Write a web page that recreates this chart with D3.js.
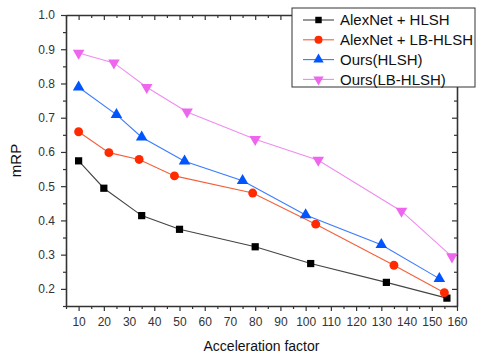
<!DOCTYPE html>
<html>
<head>
<meta charset="utf-8">
<script src="https://cdn.jsdelivr.net/npm/d3@7"></script>
<style>
  html, body { margin: 0; padding: 0; background: #fff; }
  svg { display: block; font-family: "Liberation Sans", Arial, sans-serif; }
</style>
</head>
<body>
<div id="chart"></div>
<script>
const xTicks = [10, 20, 30, 40, 50, 60, 70, 80, 90, 100, 110, 120, 130, 140, 150, 160];
const yTicks = [0.2, 0.3, 0.4, 0.5, 0.6, 0.7, 0.8, 0.9, 1.0];

const alexHlshX = [10, 20, 35, 50, 80, 102, 132, 156];
const alexHlshY = [0.574, 0.494, 0.414, 0.374, 0.323, 0.274, 0.219, 0.173];
const alexLbX = [10, 22, 34, 48, 79, 104, 135, 155];
const alexLbY = [0.659, 0.598, 0.578, 0.530, 0.480, 0.389, 0.269, 0.189];
const oursHlshX = [10, 25, 35, 52, 75, 100, 130, 153];
const oursHlshY = [0.789, 0.709, 0.643, 0.573, 0.516, 0.416, 0.329, 0.230];
const oursLbX = [10, 24, 37, 53, 80, 105, 138, 158];
const oursLbY = [0.889, 0.860, 0.789, 0.717, 0.637, 0.576, 0.427, 0.294];

const series = [
  { name: "AlexNet + HLSH", xs: alexHlshX, ys: alexHlshY, line: "#444", fill: "#000", sym: d3.symbolSquare, size: 52 },
  { name: "AlexNet + LB-HLSH", xs: alexLbX, ys: alexLbY, line: "#f4603a", fill: "#ff2a00", sym: d3.symbolCircle, size: 62 },
  { name: "Ours(HLSH)", xs: oursHlshX, ys: oursHlshY, line: "#3a7cff", fill: "#0055ff", sym: d3.symbolTriangle, size: 58 },
  { name: "Ours(LB-HLSH)", xs: oursLbX, ys: oursLbY, line: "#f08cf0", fill: "#ee66ee", sym: d3.symbolTriangle, size: 58, flip: true },
];

const W = 477, H = 355, m = { l: 66, r: 20, t: 15, b: 49 };
const x = d3.scaleLinear().domain([5, 160]).range([m.l, W - m.r]);
const y = d3.scaleLinear().domain([0.15, 1.0]).range([H - m.b, m.t]);

const svg = d3.select("#chart").append("svg").attr("width", W).attr("height", H);
const axisCol = "#333";

// frame axes: left/bottom ticks outward, top/right ticks inward
const xMinor = d3.range(5, 161, 5).filter((v) => v % 10 !== 0);
const yMinor = d3.range(0.15, 1.0, 0.1).map((v) => +v.toFixed(2));

function styleAxis(g) {
  g.select(".domain").attr("stroke", axisCol).attr("stroke-width", 1.6);
  g.selectAll(".tick line").attr("stroke", axisCol).attr("stroke-width", 1.2);
  g.selectAll(".tick text").attr("fill", "#333").attr("font-size", 12);
}

svg.append("g").attr("transform", `translate(0,${H - m.b})`)
  .call(d3.axisBottom(x).tickValues(xTicks).tickSize(5).tickSizeOuter(0).tickPadding(6).tickFormat(d3.format("d")))
  .call(styleAxis);
svg.append("g").attr("transform", `translate(0,${H - m.b})`)
  .call(d3.axisBottom(x).tickValues(xMinor).tickSize(3).tickFormat(""))
  .call((g) => g.select(".domain").remove()).call(styleAxis);

svg.append("g").attr("transform", `translate(0,${m.t})`)
  .call(d3.axisBottom(x).tickValues(xTicks).tickSize(5).tickSizeOuter(0).tickFormat(""))
  .call(styleAxis);
svg.append("g").attr("transform", `translate(0,${m.t})`)
  .call(d3.axisBottom(x).tickValues(xMinor).tickSize(3).tickFormat(""))
  .call((g) => g.select(".domain").remove()).call(styleAxis);

svg.append("g").attr("transform", `translate(${m.l},0)`)
  .call(d3.axisLeft(y).tickValues(yTicks).tickSize(5).tickSizeOuter(0).tickPadding(6).tickFormat(d3.format(".1f")))
  .call(styleAxis);
svg.append("g").attr("transform", `translate(${m.l},0)`)
  .call(d3.axisLeft(y).tickValues(yMinor).tickSize(3).tickFormat(""))
  .call((g) => g.select(".domain").remove()).call(styleAxis);

svg.append("g").attr("transform", `translate(${W - m.r},0)`)
  .call(d3.axisLeft(y).tickValues(yTicks).tickSize(5).tickSizeOuter(0).tickFormat(""))
  .call(styleAxis);
svg.append("g").attr("transform", `translate(${W - m.r},0)`)
  .call(d3.axisLeft(y).tickValues(yMinor).tickSize(3).tickFormat(""))
  .call((g) => g.select(".domain").remove()).call(styleAxis);

// axis titles
svg.append("text").attr("x", (m.l + W - m.r) / 2).attr("y", H - 4).attr("text-anchor", "middle")
  .attr("font-size", 14).attr("fill", "#111").text("Acceleration factor");
svg.append("text").attr("transform", `translate(21,${(m.t + H - m.b) / 2}) rotate(-90)`)
  .attr("text-anchor", "middle").attr("font-size", 15).attr("fill", "#111").text("mRP");

// series
const line = d3.line().x((d) => x(d[0])).y((d) => y(d[1]));
series.forEach((s) => {
  const pts = s.xs.map((v, i) => [v, s.ys[i]]);
  svg.append("path").datum(pts).attr("d", line).attr("fill", "none")
    .attr("stroke", s.line).attr("stroke-width", 1.1);
  svg.append("g").selectAll("path").data(pts).join("path")
    .attr("d", d3.symbol(s.sym, s.size))
    .attr("transform", (d) => `translate(${x(d[0])},${y(d[1])})${s.flip ? " rotate(180)" : ""}`)
    .attr("fill", s.fill);
});

// legend
const lg = svg.append("g").attr("transform", "translate(292,8)");
lg.append("rect").attr("width", 183).attr("height", 79).attr("fill", "#fff")
  .attr("stroke", "#333").attr("stroke-width", 1);
series.forEach((s, i) => {
  const yy = 12 + i * 19.8;
  lg.append("line").attr("x1", 11).attr("x2", 42).attr("y1", yy).attr("y2", yy)
    .attr("stroke", s.line).attr("stroke-width", 1.1);
  lg.append("path").attr("d", d3.symbol(s.sym, s.size * 0.8))
    .attr("transform", `translate(26.5,${yy})${s.flip ? " rotate(180)" : ""}`).attr("fill", s.fill);
  lg.append("text").attr("x", 48).attr("y", yy).attr("dy", "0.36em")
    .attr("font-size", 15).attr("fill", "#111").text(s.name);
});
</script>
</body>
</html>
